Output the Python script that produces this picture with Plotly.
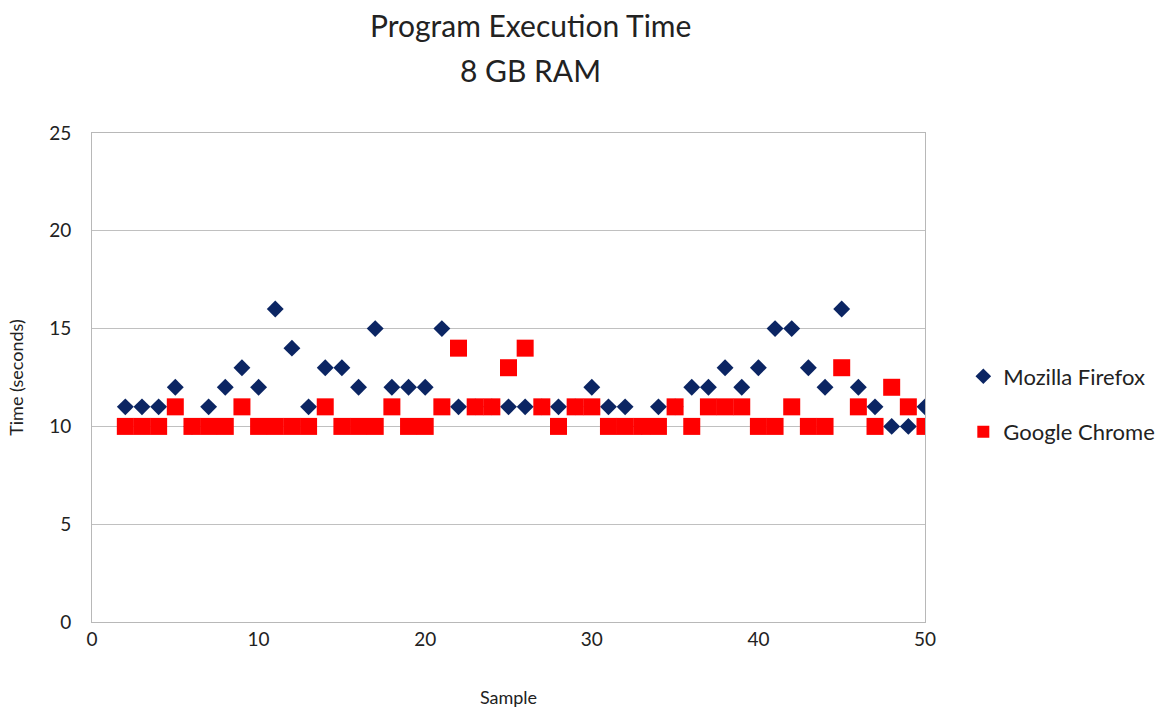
import plotly.graph_objects as go

samples = list(range(2, 51))
firefox = [11, 11, 11, 12, 10, 11, 12, 13, 12, 16, 14, 11, 13, 13, 12, 15, 12, 12, 12, 15,
           11, 11, 11, 11, 11, 11, 11, 11, 12, 11, 11, 10, 11, 11, 12, 12, 13, 12, 13, 15,
           15, 13, 12, 16, 12, 11, 10, 10, 11]
chrome = [10, 10, 10, 11, 10, 10, 10, 11, 10, 10, 10, 10, 11, 10, 10, 10, 11, 10, 10, 11,
          14, 11, 11, 13, 14, 11, 10, 11, 11, 10, 10, 10, 10, 11, 10, 11, 11, 11, 10, 10,
          11, 10, 10, 13, 11, 10, 12, 11, 10]

FONT = "Lato, Open Sans, sans-serif"
TXT = "#222222"

fig = go.Figure()
fig.add_trace(go.Scatter(x=samples, y=firefox, mode="markers", name="Mozilla Firefox",
                         legendgroup="ff",
                         marker=dict(symbol="diamond", size=13, color="#0b2563")))
fig.add_trace(go.Scatter(x=samples, y=chrome, mode="markers", name="Google Chrome",
                         legendgroup="gc",
                         marker=dict(symbol="square", size=17, color="#ff0000")))

fig.add_annotation(text="Program Execution Time", xref="paper", yref="paper",
                   x=(530 - 92) / 833, y=(622 - 25) / 489, xanchor="center", yanchor="middle",
                   showarrow=False, font=dict(size=30, color=TXT))
fig.add_annotation(text="8 GB RAM", xref="paper", yref="paper",
                   x=(530 - 92) / 833, y=(622 - 70) / 489, xanchor="center", yanchor="middle",
                   showarrow=False, font=dict(size=30, color=TXT))

fig.update_layout(
    width=1164, height=712,
    margin=dict(l=92, r=239, t=133, b=90, autoexpand=False),
    paper_bgcolor="white", plot_bgcolor="white",
    font=dict(family=FONT, size=19, color=TXT),
    showlegend=True,
    legend=dict(x=1.046, xanchor="left", y=0.445, yanchor="middle",
                font=dict(size=22), itemsizing="constant", tracegroupgap=24),
    xaxis=dict(range=[0, 50], dtick=10, showgrid=False, zeroline=False,
               showline=True, linecolor="#b8b8b8", linewidth=1, mirror=True,
               ticks="", tickfont=dict(size=19),
               title=dict(text="Sample", font=dict(size=18), standoff=42)),
    yaxis=dict(range=[0, 25], dtick=5, showgrid=True, gridcolor="#c0c0c0", gridwidth=1,
               zeroline=False, showline=True, linecolor="#b8b8b8", linewidth=1, mirror=True,
               ticks="", ticklabelstandoff=16, tickfont=dict(size=19),
               title=dict(text="Time (seconds)", font=dict(size=18), standoff=20)),
)

fig.write_html("out.html")
